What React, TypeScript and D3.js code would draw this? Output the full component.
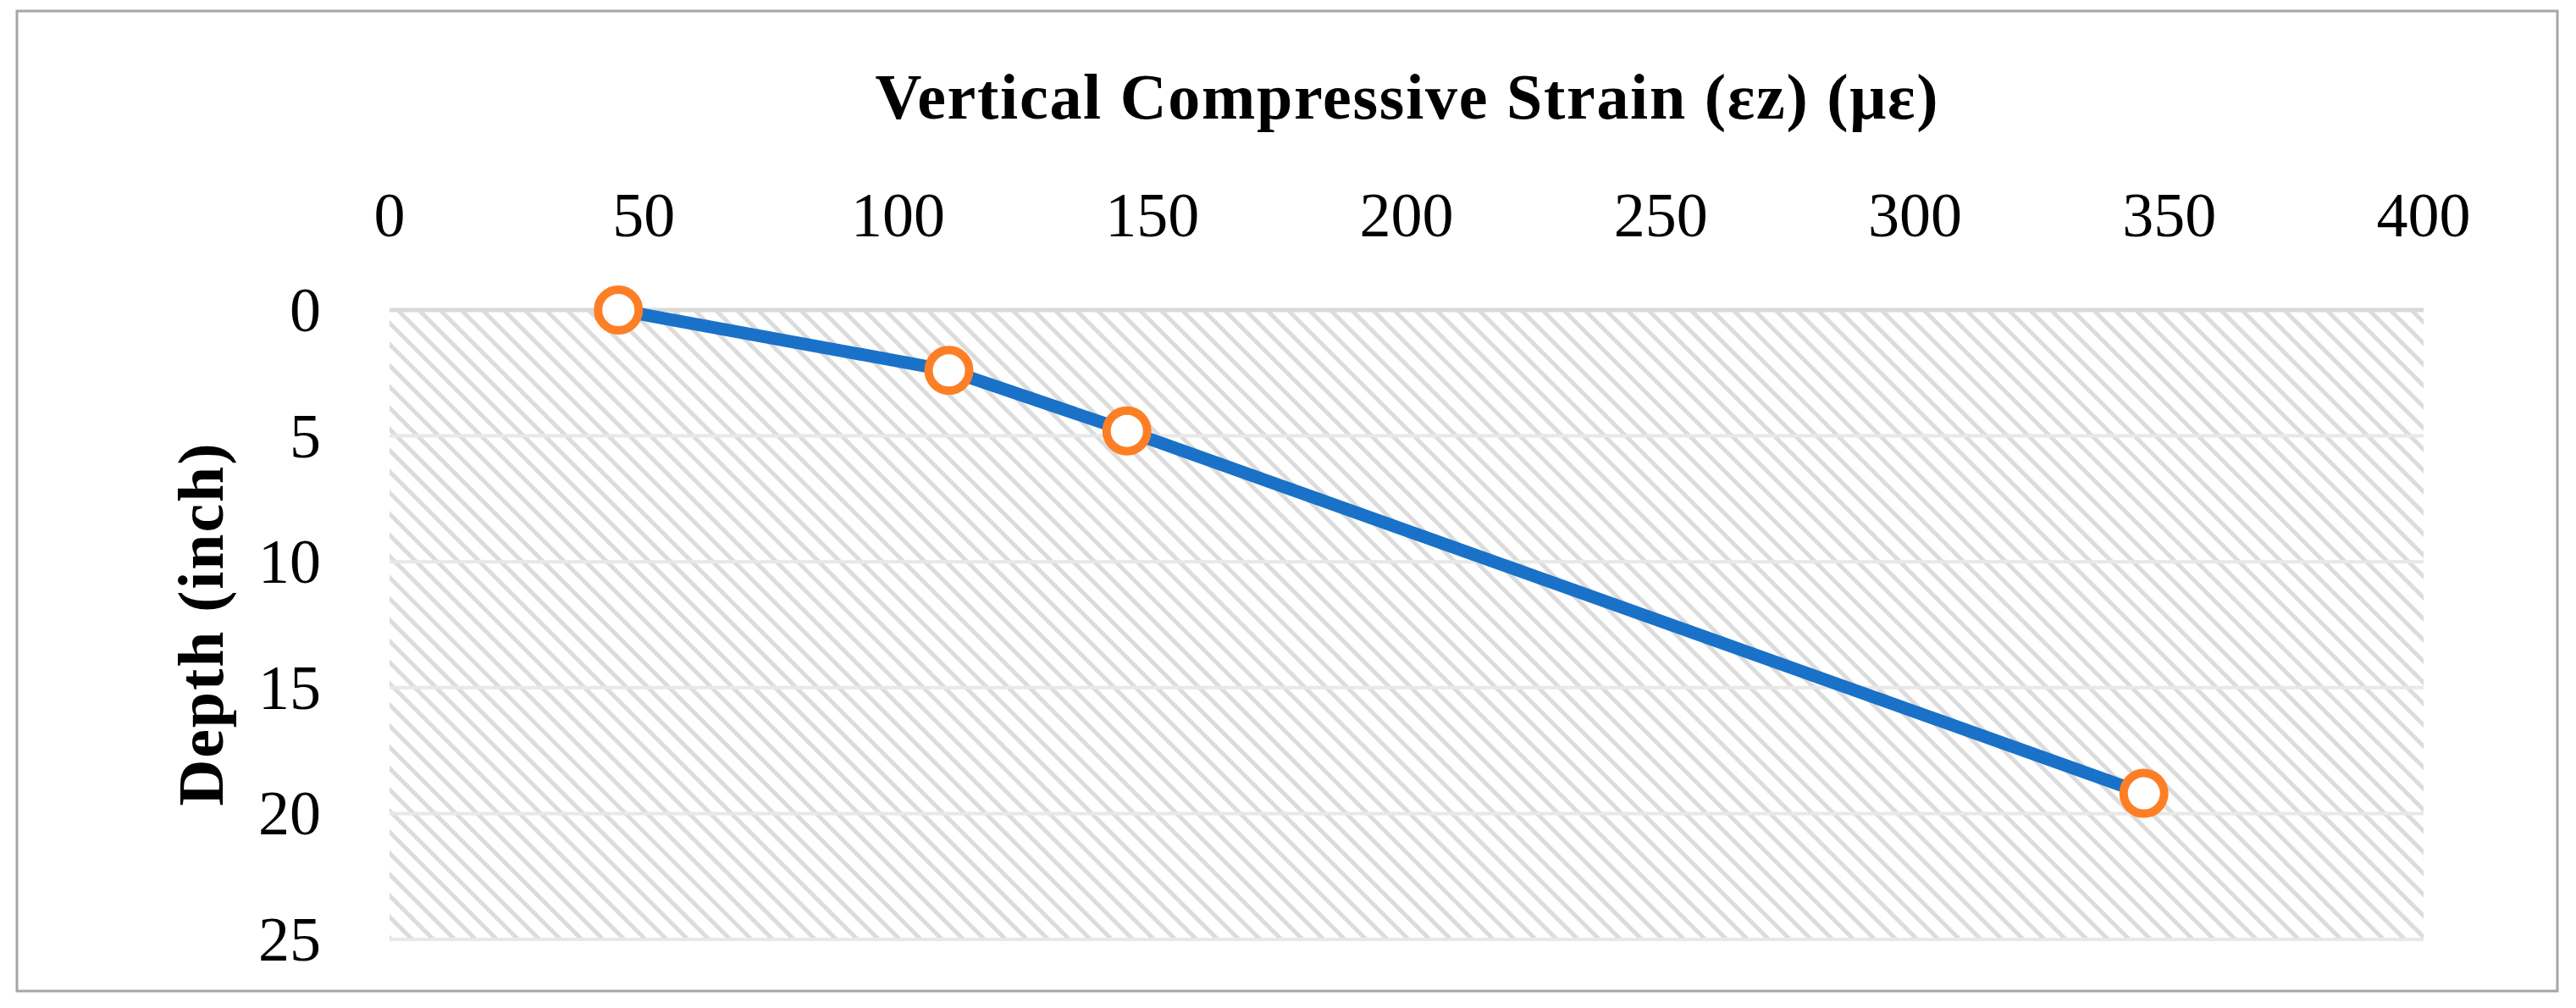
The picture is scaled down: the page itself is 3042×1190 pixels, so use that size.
import React from "react";
import * as d3 from "d3";

// data
const strain: number[] = [45, 110, 145, 345];
const depth: number[] = [0, 2.4, 4.8, 19.2];
const xTicks: number[] = [0, 50, 100, 150, 200, 250, 300, 350, 400];
const yTicks: number[] = [0, 5, 10, 15, 20, 25];
const titleText = "Vertical Compressive Strain (εz) (με)";
const yLabelText = "Depth (inch)";

const W = 3042;
const H = 1190;
const plot = { left: 460, right: 2862, top: 366, bottom: 1109 };
const font = "'Liberation Serif', 'Times New Roman', serif";

const App: React.FC = () => {
  const x = d3.scaleLinear().domain([0, 400]).range([plot.left, plot.right]);
  const y = d3.scaleLinear().domain([0, 25]).range([plot.top, plot.bottom]);

  const pts = strain.map((s, i) => [s, depth[i]] as [number, number]);
  const line = d3
    .line<[number, number]>()
    .x((d) => x(d[0]))
    .y((d) => y(d[1]));

  return (
    <svg
      width={W}
      height={H}
      style={{ position: "absolute", left: 0, top: 0, display: "block", background: "#fff" }}
    >
      <defs>
        <pattern
          id="hatch"
          patternUnits="userSpaceOnUse"
          width={17.7}
          height={17.7}
          patternTransform="rotate(-45)"
        >
          <rect width={17.7} height={17.7} fill="#fff" />
          <rect x={0} y={0} width={5} height={17.7} fill="#dcdcdc" />
        </pattern>
      </defs>

      {/* outer frame */}
      <rect x={20} y={13} width={3000} height={1157} fill="#fff" stroke="#a6a6a6" strokeWidth={3} />

      {/* plot area */}
      <rect
        x={plot.left}
        y={plot.top}
        width={plot.right - plot.left}
        height={plot.bottom - plot.top}
        fill="url(#hatch)"
      />

      {/* horizontal gridlines */}
      {yTicks.map((t) => (
        <line
          key={"g" + t}
          x1={plot.left}
          x2={plot.right}
          y1={y(t)}
          y2={y(t)}
          stroke={t === 0 ? "#d9d9d9" : "#e8e8e8"}
          strokeWidth={t === 0 ? 5 : 4}
        />
      ))}

      {/* x tick labels (top) */}
      {xTicks.map((t) => (
        <text
          key={"x" + t}
          x={x(t)}
          y={279}
          textAnchor="middle"
          fontFamily={font}
          fontSize={74}
          fill="#000"
        >
          {t}
        </text>
      ))}

      {/* y tick labels */}
      {yTicks.map((t) => (
        <text
          key={"y" + t}
          x={379}
          y={y(t)}
          textAnchor="end"
          dominantBaseline="central"
          fontFamily={font}
          fontSize={74}
          fill="#000"
        >
          {t}
        </text>
      ))}

      {/* title */}
      <text
        x={(plot.left + plot.right) / 2}
        y={140}
        textAnchor="middle"
        fontFamily={font}
        fontWeight="bold"
        fontSize={76}
        textLength={1255}
        lengthAdjust="spacing"
        fill="#000"
      >
        {titleText}
      </text>

      {/* y axis title */}
      <text
        transform={`translate(237, ${(plot.top + plot.bottom) / 2}) rotate(-90)`}
        textAnchor="middle"
        dominantBaseline="central"
        fontFamily={font}
        fontWeight="bold"
        fontSize={76}
        textLength={428}
        lengthAdjust="spacing"
        fill="#000"
      >
        {yLabelText}
      </text>

      {/* series */}
      <path d={line(pts) || ""} fill="none" stroke="#1a72c8" strokeWidth={15} strokeLinejoin="round" />
      {pts.map((d, i) => (
        <circle
          key={"p" + i}
          cx={x(d[0])}
          cy={y(d[1])}
          r={24}
          fill="#fff"
          stroke="#fd7f25"
          strokeWidth={10}
        />
      ))}
    </svg>
  );
};

export default App;
